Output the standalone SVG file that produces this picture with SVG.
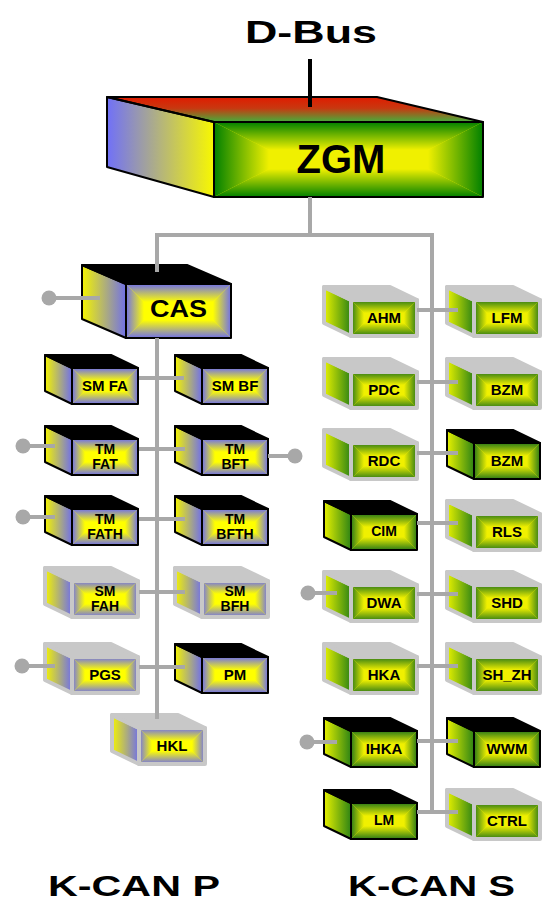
<svg xmlns="http://www.w3.org/2000/svg" width="543" height="905" viewBox="0 0 543 905">
<style>
.lb{font-family:"Liberation Sans",Arial,sans-serif;font-weight:bold;text-anchor:middle;fill:#000}
.t15{font-size:15px}
.t14{font-size:14px}
.bus{fill:none;stroke:#a8a8a8;stroke-width:4}
.dot{fill:#a8a8a8}
.ok{fill:none;stroke:#000;stroke-width:2;stroke-linejoin:round}
.og{fill:none;stroke:#c8c8c8;stroke-width:4;stroke-linejoin:round}
</style>
<defs>
<linearGradient id="pT" x1="0" y1="0" x2="0" y2="1"><stop offset="0" stop-color="#7070e8"/><stop offset="1" stop-color="#ffff00"/></linearGradient>
<linearGradient id="pB" href="#pT" x1="0" y1="1" x2="0" y2="0"/>
<linearGradient id="pL" href="#pT" x1="0" y1="0" x2="1" y2="0"/>
<linearGradient id="pR" href="#pT" x1="1" y1="0" x2="0" y2="0"/>
<linearGradient id="sT" x1="0" y1="0" x2="0" y2="1"><stop offset="0" stop-color="#2c7a16"/><stop offset="1" stop-color="#f0f000"/></linearGradient>
<linearGradient id="sB" href="#sT" x1="0" y1="1" x2="0" y2="0"/>
<linearGradient id="sL" href="#sT" x1="0" y1="0" x2="1" y2="0"/>
<linearGradient id="sR" href="#sT" x1="1" y1="0" x2="0" y2="0"/>
<linearGradient id="zT" x1="0" y1="0" x2="0" y2="1"><stop offset="0" stop-color="#008000"/><stop offset="1" stop-color="#f0f000"/></linearGradient>
<linearGradient id="zB" href="#zT" x1="0" y1="1" x2="0" y2="0"/>
<linearGradient id="zL" href="#zT" x1="0" y1="0" x2="1" y2="0"/>
<linearGradient id="zR" href="#zT" x1="1" y1="0" x2="0" y2="0"/>
<linearGradient id="pSide" x1="0" y1="0" x2="1" y2="0"><stop offset="0" stop-color="#f4f400"/><stop offset="1" stop-color="#7070e8"/></linearGradient>
<linearGradient id="sSide" x1="0" y1="0" x2="1" y2="0"><stop offset="0" stop-color="#e8f200"/><stop offset="1" stop-color="#2e8414"/></linearGradient>
<linearGradient id="zSide" x1="0" y1="0" x2="1" y2="0"><stop offset="0" stop-color="#7070f8"/><stop offset="1" stop-color="#f8f800"/></linearGradient>
<linearGradient id="zTop" x1="0" y1="0" x2="0" y2="1"><stop offset="0" stop-color="#e01c00"/><stop offset="0.45" stop-color="#c83810"/><stop offset="1" stop-color="#44b03c"/></linearGradient>

<g id="fP">
<rect width="66" height="36" fill="#ffff00"/>
<polygon points="0,0 66,0 53,13 13,13" fill="url(#pT)"/>
<polygon points="0,36 66,36 53,23 13,23" fill="url(#pB)"/>
<polygon points="0,0 13,13 13,23 0,36" fill="url(#pL)"/>
<polygon points="66,0 53,13 53,23 66,36" fill="url(#pR)"/>
</g>
<g id="fS">
<rect width="66" height="36" fill="#f0f000"/>
<polygon points="0,0 66,0 53,13 13,13" fill="url(#sT)"/>
<polygon points="0,36 66,36 53,23 13,23" fill="url(#sB)"/>
<polygon points="0,0 13,13 13,23 0,36" fill="url(#sL)"/>
<polygon points="66,0 53,13 53,23 66,36" fill="url(#sR)"/>
</g>
<g id="bPk">
<polygon points="-27,-13 0,0 0,36 -27,23" fill="url(#pSide)"/>
<polygon points="-27,-13 39,-13 66,0 0,0" fill="#000"/>
<use href="#fP"/>
<polygon class="ok" points="-27,-13 0,0 0,36 -27,23"/>
<polygon class="ok" points="-27,-13 39,-13 66,0 0,0"/>
<rect class="ok" width="66" height="36"/>
</g>
<g id="bPg">
<polygon points="-27,-13 39,-13 66,0 0,0" fill="#c8c8c8"/>
<polygon points="-27,-13 0,0 0,36 -27,23" fill="url(#pSide)"/>
<use href="#fP"/>
<polygon class="og" points="-27,-13 0,0 0,36 -27,23"/>
<polygon class="og" points="-27,-13 39,-13 66,0 0,0"/>
<rect class="og" width="66" height="36"/>
</g>
<g id="bSk">
<polygon points="-27,-13 0,0 0,36 -27,23" fill="url(#sSide)"/>
<polygon points="-27,-13 39,-13 66,0 0,0" fill="#000"/>
<use href="#fS"/>
<polygon class="ok" points="-27,-13 0,0 0,36 -27,23"/>
<polygon class="ok" points="-27,-13 39,-13 66,0 0,0"/>
<rect class="ok" width="66" height="36"/>
</g>
<g id="bSg">
<polygon points="-27,-13 39,-13 66,0 0,0" fill="#c8c8c8"/>
<polygon points="-27,-13 0,0 0,36 -27,23" fill="url(#sSide)"/>
<use href="#fS"/>
<polygon class="og" points="-27,-13 0,0 0,36 -27,23"/>
<polygon class="og" points="-27,-13 39,-13 66,0 0,0"/>
<rect class="og" width="66" height="36"/>
</g>
</defs>

<rect width="543" height="905" fill="#fff"/>

<text class="lb" x="311" y="43" font-size="31" textLength="132" lengthAdjust="spacingAndGlyphs">D-Bus</text>
<text class="lb" x="134" y="896" font-size="29" textLength="172" lengthAdjust="spacingAndGlyphs">K-CAN P</text>
<text class="lb" x="431.5" y="896" font-size="29" textLength="167" lengthAdjust="spacingAndGlyphs">K-CAN S</text>

<g id="n-zgm">
<polygon points="107,97 214,122 214,197 107,167" fill="url(#zSide)"/>
<polygon points="107,97 377,97 483,122 214,122" fill="url(#zTop)"/>
<rect x="214" y="122" width="269" height="75" fill="#f0f000"/>
<polygon points="214,122 483,122 428,150 269,150" fill="url(#zT)"/>
<polygon points="214,197 483,197 428,169 269,169" fill="url(#zB)"/>
<polygon points="214,122 269,150 269,169 214,197" fill="url(#zL)"/>
<polygon points="483,122 428,150 428,169 483,197" fill="url(#zR)"/>
<polygon class="ok" points="107,97 214,122 214,197 107,167"/>
<polygon class="ok" points="107,97 377,97 483,122 214,122"/>
<rect class="ok" x="214" y="122" width="269" height="75"/>
<text class="lb" x="341" y="173" font-size="40">ZGM</text>
</g>

<g id="n-cas">
<polygon points="82,265 126,284 126,338 82,319" fill="url(#pSide)"/>
<polygon points="82,265 187,265 231,284 126,284" fill="#000"/>
<rect x="126" y="284" width="105" height="54" fill="#ffff00"/>
<polygon points="126,284 231,284 213,302 144,302" fill="url(#pT)"/>
<polygon points="126,338 231,338 213,320 144,320" fill="url(#pB)"/>
<polygon points="126,284 144,302 144,320 126,338" fill="url(#pL)"/>
<polygon points="231,284 213,302 213,320 231,338" fill="url(#pR)"/>
<polygon class="ok" points="82,265 126,284 126,338 82,319"/>
<polygon class="ok" points="82,265 187,265 231,284 126,284"/>
<rect class="ok" x="126" y="284" width="105" height="54"/>
<text class="lb" x="178.5" y="317" font-size="23" textLength="57" lengthAdjust="spacingAndGlyphs">CAS</text>
</g>

<g id="n-smfa"><use href="#bPk" x="72" y="368"/><text class="lb t15" x="105" y="391">SM FA</text></g>
<g id="n-smbf"><use href="#bPk" x="202" y="368"/><text class="lb t15" x="235" y="391">SM BF</text></g>
<g id="n-tmfat"><use href="#bPk" x="72" y="439"/><text class="lb t14" x="105" y="454">TM</text><text class="lb t14" x="105" y="469">FAT</text></g>
<g id="n-tmbft"><use href="#bPk" x="202" y="439"/><text class="lb t14" x="235" y="454">TM</text><text class="lb t14" x="235" y="469">BFT</text></g>
<g id="n-tmfath"><use href="#bPk" x="72" y="509"/><text class="lb t14" x="105" y="524">TM</text><text class="lb t14" x="105" y="539">FATH</text></g>
<g id="n-tmbfth"><use href="#bPk" x="202" y="509"/><text class="lb t14" x="235" y="524">TM</text><text class="lb t14" x="235" y="539">BFTH</text></g>
<g id="n-smfah"><use href="#bPg" x="72" y="581"/><text class="lb t14" x="105" y="596">SM</text><text class="lb t14" x="105" y="611">FAH</text></g>
<g id="n-smbfh"><use href="#bPg" x="202" y="581"/><text class="lb t14" x="235" y="596">SM</text><text class="lb t14" x="235" y="611">BFH</text></g>
<g id="n-pgs"><use href="#bPg" x="72" y="657"/><text class="lb t15" x="105" y="680">PGS</text></g>
<g id="n-pm"><use href="#bPk" x="202" y="657"/><text class="lb t15" x="235" y="680">PM</text></g>
<g id="n-hkl"><use href="#bPg" x="139" y="728"/><text class="lb t15" x="172" y="751">HKL</text></g>

<g id="n-ahm"><use href="#bSg" x="351" y="300"/><text class="lb t15" x="384" y="323">AHM</text></g>
<g id="n-lfm"><use href="#bSg" x="474" y="300"/><text class="lb t15" x="507" y="323">LFM</text></g>
<g id="n-pdc"><use href="#bSg" x="351" y="372"/><text class="lb t15" x="384" y="395">PDC</text></g>
<g id="n-bzm1"><use href="#bSg" x="474" y="372"/><text class="lb t15" x="507" y="395">BZM</text></g>
<g id="n-rdc"><use href="#bSg" x="351" y="443"/><text class="lb t15" x="384" y="466">RDC</text></g>
<g id="n-bzm2"><use href="#bSk" x="474" y="443"/><text class="lb t15" x="507" y="466">BZM</text></g>
<g id="n-cim"><use href="#bSk" x="351" y="514"/><text class="lb t14" x="384" y="536">CIM</text></g>
<g id="n-rls"><use href="#bSg" x="474" y="514"/><text class="lb t15" x="507" y="537">RLS</text></g>
<g id="n-dwa"><use href="#bSg" x="351" y="585"/><text class="lb t15" x="384" y="608">DWA</text></g>
<g id="n-shd"><use href="#bSg" x="474" y="585"/><text class="lb t15" x="507" y="608">SHD</text></g>
<g id="n-hka"><use href="#bSg" x="351" y="657"/><text class="lb t15" x="384" y="680">HKA</text></g>
<g id="n-shzh"><use href="#bSg" x="474" y="657"/><text class="lb t15" x="507" y="680">SH_ZH</text></g>
<g id="n-ihka"><use href="#bSk" x="351" y="731"/><text class="lb t15" x="384" y="754">IHKA</text></g>
<g id="n-wwm"><use href="#bSk" x="474" y="731"/><text class="lb t15" x="507" y="754">WWM</text></g>
<g id="n-lm"><use href="#bSk" x="351" y="803"/><text class="lb t14" x="384" y="825">LM</text></g>
<g id="n-ctrl"><use href="#bSg" x="474" y="803"/><text class="lb t15" x="507" y="826">CTRL</text></g>

<g id="connectors">
<path d="M310 59V107" fill="none" stroke="#000" stroke-width="4"/>
<path class="bus" d="M310 197V235"/>
<path class="bus" d="M157 272V235H432V812H417"/>
<path class="bus" d="M157 338V719"/>
<path class="bus" d="M139 378H184M139 449H185M139 519H185M139 592H185M139 667H185"/>
<path class="bus" d="M417 310H458M417 382H458M417 453H458M417 523H458M417 594H458M417 666H458M417 741H458M432 812H458"/>
<path class="bus" d="M49 298H100M23 446H55M268 456H295M23 517H55M22 666H55M308 593H337M307 742H337"/>
<circle class="dot" cx="49" cy="298" r="7.5"/>
<circle class="dot" cx="23" cy="446" r="7.5"/>
<circle class="dot" cx="295" cy="456" r="7.5"/>
<circle class="dot" cx="23" cy="517" r="7.5"/>
<circle class="dot" cx="22" cy="666" r="7.5"/>
<circle class="dot" cx="308" cy="593" r="7.5"/>
<circle class="dot" cx="307" cy="742" r="7.5"/>
</g>
</svg>
